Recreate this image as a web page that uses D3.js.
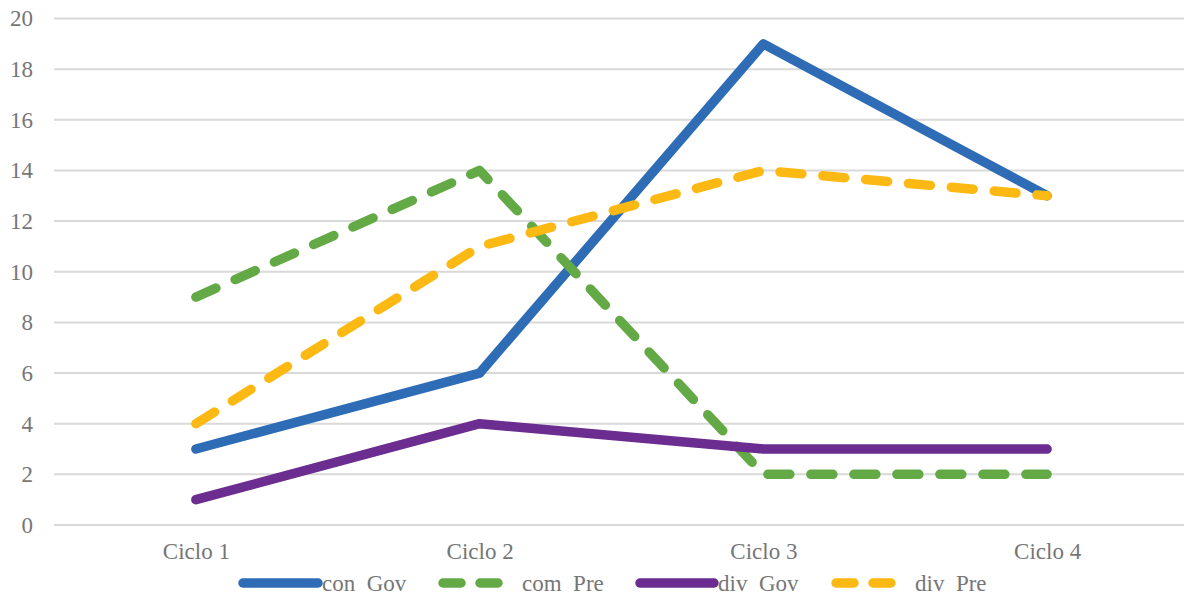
<!DOCTYPE html>
<html>
<head>
<meta charset="utf-8">
<script src="https://cdn.jsdelivr.net/npm/d3@7"></script>
<style>
  html, body { margin: 0; padding: 0; background: #fff; }
  svg { display: block; }
  text { font-family: "Liberation Serif", "Times New Roman", serif; fill: #767676; }
</style>
</head>
<body>
<svg id="chart" width="1184" height="595"></svg>
<script>
// Categories and series
const categories = ["Ciclo 1", "Ciclo 2", "Ciclo 3", "Ciclo 4"];
const conGov = [3, 6, 19, 13];
const comPre = [9, 14, 2, 2];
const divGov = [1, 4, 3, 3];
const divPre = [4, 11, 14, 13];
const yTicks = [0, 2, 4, 6, 8, 10, 12, 14, 16, 18, 20];

const seriesNames = ["con  Gov", "com  Pre", "div  Gov", "div  Pre"];
const seriesValues = [conGov, comPre, divGov, divPre];
const seriesColors = ["#2e6db5", "#63a945", "#6b2d8f", "#fdb913"];
const seriesDashed = [false, true, false, true];

const svg = d3.select("#chart");
const plotLeft = 54, plotRight = 1189, plotTop = 18.5, plotBottom = 525;
const fontSize = "23px";

const x = d3.scalePoint().domain(categories).range([plotLeft, plotRight]).padding(0.5);
const y = d3.scaleLinear().domain([0, 20]).range([plotBottom, plotTop]);

// Horizontal gridlines
svg.append("g")
  .selectAll("line")
  .data(yTicks)
  .join("line")
  .attr("x1", plotLeft).attr("x2", plotRight)
  .attr("y1", d => y(d)).attr("y2", d => y(d))
  .attr("stroke", "#d9d9d9")
  .attr("stroke-width", 2);

// Y axis labels
const yAxis = svg.append("g")
  .attr("transform", `translate(${plotLeft - 21},0)`)
  .call(d3.axisLeft(y).tickValues(yTicks).tickSize(0).tickPadding(0));
yAxis.select(".domain").remove();
yAxis.selectAll("text")
  .style("font-size", fontSize)
  .attr("fill", "#767676")
  .style("font-family", "'Liberation Serif', serif");

// X axis labels
const xAxis = svg.append("g")
  .attr("transform", `translate(0,${plotBottom + 18})`)
  .call(d3.axisBottom(x).tickSize(0).tickPadding(0));
xAxis.select(".domain").remove();
xAxis.selectAll("text")
  .style("font-size", fontSize)
  .attr("fill", "#767676")
  .style("font-family", "'Liberation Serif', serif");

// Series lines
const line = d3.line()
  .x((d, i) => x(categories[i]))
  .y(d => y(d));

seriesValues.forEach((vals, k) => {
  svg.append("path")
    .datum(vals)
    .attr("d", line)
    .attr("fill", "none")
    .attr("stroke", seriesColors[k])
    .attr("stroke-width", 9.5)
    .attr("stroke-linecap", "round")
    .attr("stroke-linejoin", "round")
    .attr("stroke-dasharray", seriesDashed[k] ? "22 21" : null);
});

// Legend
const legendItems = [
  { x1: 243, x2: 318, tx: 322 },
  { x1: 443, x2: 507, tx: 522 },
  { x1: 640, x2: 714, tx: 718 },
  { x1: 836, x2: 900, tx: 915 }
];
const ly = 583;
const legend = svg.append("g");
legendItems.forEach((it, k) => {
  legend.append("line")
    .attr("x1", it.x1).attr("x2", it.x2)
    .attr("y1", ly).attr("y2", ly)
    .attr("stroke", seriesColors[k])
    .attr("stroke-width", 9.5)
    .attr("stroke-linecap", "round")
    .attr("stroke-dasharray", seriesDashed[k] ? "18 19" : null);
  legend.append("text")
    .attr("x", it.tx).attr("y", ly)
    .attr("dy", "0.35em")
    .style("font-size", fontSize)
    .style("white-space", "pre")
    .text(seriesNames[k]);
});
</script>
</body>
</html>
